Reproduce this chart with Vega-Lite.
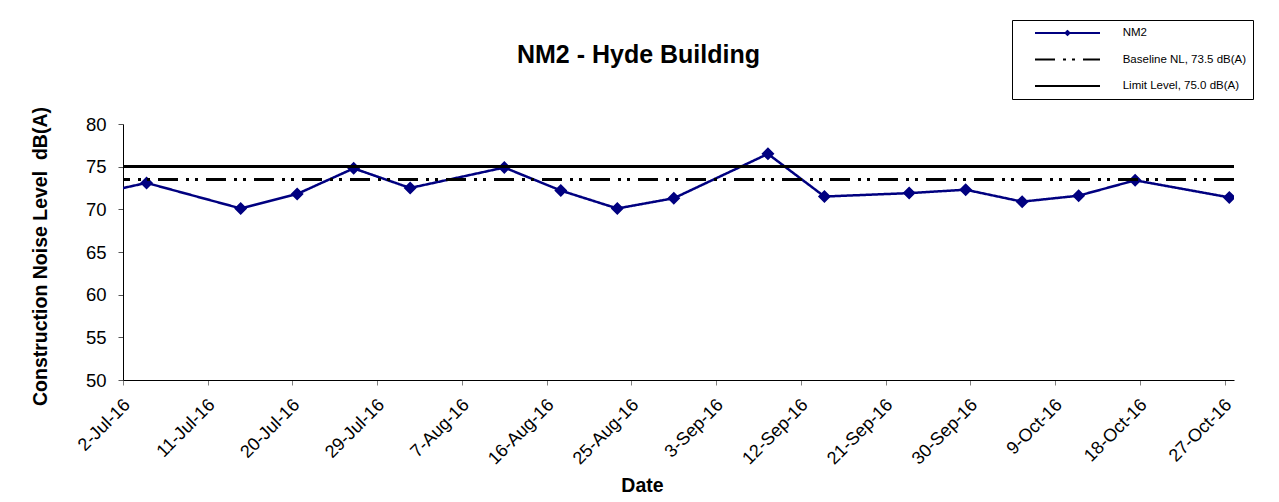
{
  "$schema": "https://vega.github.io/schema/vega-lite/v6.json",
  "width": 1111,
  "height": 256,
  "autosize": "none",
  "padding": {"left": 123, "top": 124, "right": 45, "bottom": 122},
  "background": "white",
  "title": {
    "text": "NM2 - Hyde Building",
    "fontSize": 25,
    "fontWeight": "bold",
    "font": "Liberation Sans",
    "color": "#000000",
    "anchor": "middle",
    "frame": "group",
    "baseline": "alphabetic",
    "offset": -68,
    "dx": -40
  },
  "data": {
    "values": [
      {"date": "2016/06/27", "level": 71.4},
      {"date": "2016/07/04", "level": 73.1},
      {"date": "2016/07/14", "level": 70.1},
      {"date": "2016/07/20", "level": 71.8},
      {"date": "2016/07/26", "level": 74.8},
      {"date": "2016/08/01", "level": 72.5},
      {"date": "2016/08/11", "level": 74.9},
      {"date": "2016/08/17", "level": 72.2},
      {"date": "2016/08/23", "level": 70.1},
      {"date": "2016/08/29", "level": 71.3},
      {"date": "2016/09/08", "level": 76.5},
      {"date": "2016/09/14", "level": 71.5},
      {"date": "2016/09/23", "level": 71.9},
      {"date": "2016/09/29", "level": 72.3},
      {"date": "2016/10/05", "level": 70.9},
      {"date": "2016/10/11", "level": 71.6},
      {"date": "2016/10/17", "level": 73.4},
      {"date": "2016/10/27", "level": 71.4}
    ]
  },
  "encoding": {
    "x": {
      "field": "date",
      "type": "temporal",
      "timeUnit": "yearmonthdate",
      "bandPosition": 0.5,
      "title": "Date",
      "scale": {
        "domain": [
          {"year": 2016, "month": 7, "date": 2},
          {"year": 2016, "month": 10, "date": 28}
        ]
      },
      "axis": {
        "values": [
          {"year": 2016, "month": 7, "date": 2},
          {"year": 2016, "month": 7, "date": 11},
          {"year": 2016, "month": 7, "date": 20},
          {"year": 2016, "month": 7, "date": 29},
          {"year": 2016, "month": 8, "date": 7},
          {"year": 2016, "month": 8, "date": 16},
          {"year": 2016, "month": 8, "date": 25},
          {"year": 2016, "month": 9, "date": 3},
          {"year": 2016, "month": 9, "date": 12},
          {"year": 2016, "month": 9, "date": 21},
          {"year": 2016, "month": 9, "date": 30},
          {"year": 2016, "month": 10, "date": 9},
          {"year": 2016, "month": 10, "date": 18},
          {"year": 2016, "month": 10, "date": 27}
        ],
        "format": "%-d-%b-%y",
        "formatType": "time",
        "labelAngle": -45,
        "labelAlign": "right",
        "labelBaseline": "middle",
        "labelFontSize": 18,
        "labelFont": "Liberation Sans",
        "labelColor": "#000000",
        "labelPadding": 17,
        "labelOffset": 4,
        "labelOverlap": false,
        "labelFlush": false,
        "grid": false,
        "domainColor": "#000000",
        "domainWidth": 1,
        "tickColor": "#808080",
        "tickSize": 5,
        "titleFont": "Liberation Sans",
        "titleFontSize": 19.5,
        "titleFontWeight": "bold",
        "titleColor": "#000000",
        "titleBaseline": "alphabetic",
        "titleAnchor": null,
        "titleX": 519,
        "titleY": 111
      }
    },
    "y": {
      "field": "level",
      "type": "quantitative",
      "title": "Construction Noise Level\u00a0 dB(A)",
      "scale": {"domain": [50, 80], "zero": false, "nice": false},
      "axis": {
        "values": [50, 55, 60, 65, 70, 75, 80],
        "labelFontSize": 18.5,
        "labelFont": "Liberation Sans",
        "labelColor": "#000000",
        "labelPadding": 12,
        "grid": false,
        "domainColor": "#000000",
        "domainWidth": 1,
        "tickColor": "#555555",
        "tickSize": 5,
        "titleFont": "Liberation Sans",
        "titleFontSize": 19.5,
        "titleFontWeight": "bold",
        "titleColor": "#000000",
        "titlePadding": 35,
        "titleY": 132
      }
    }
  },
  "layer": [
    {
      "mark": {"type": "line", "clip": true, "strokeWidth": 2.5},
      "encoding": {
        "color": {
          "datum": "NM2",
          "type": "nominal",
          "scale": {
            "domain": ["NM2", "Baseline NL, 73.5 dB(A)", "Limit Level, 75.0 dB(A)"],
            "range": ["#000080", "#000000", "#000000"]
          },
          "legend": {
            "title": null,
            "orient": "none",
            "legendX": 889,
            "legendY": -104,
            "padding": 6,
            "strokeColor": "#000000",
            "fillColor": "#ffffff",
            "symbolSize": 4225,
            "symbolStrokeWidth": 2,
            "symbolOffset": 16,
            "labelOffset": 21.7,
            "clipHeight": 14,
            "rowPadding": 12.5,
            "labelFontSize": 11.5,
            "labelFont": "Liberation Sans",
            "labelColor": "#000000",
            "labelLimit": 300,
            "encode": {
              "symbols": {"update": {"fill": {"value": "#000080"}}}
            }
          }
        },
        "strokeDash": {
          "datum": "NM2",
          "type": "nominal",
          "scale": {
            "domain": ["NM2", "Baseline NL, 73.5 dB(A)", "Limit Level, 75.0 dB(A)"],
            "range": [[1, 0], [20, 8, 3, 6, 3, 8], [1, 0]]
          }
        }
      }
    },
    {
      "mark": {"type": "point", "filled": true, "opacity": 1, "size": 46944, "clip": true},
      "encoding": {
        "color": {"datum": "NM2", "type": "nominal"},
        "shape": {
          "datum": "NM2",
          "type": "nominal",
          "scale": {
            "domain": ["NM2", "Baseline NL, 73.5 dB(A)", "Limit Level, 75.0 dB(A)"],
            "range": [
              "M-1,0L1,0M0,-0.06L0.06,0L0,0.06L-0.06,0Z",
              "M-1,0L1,0",
              "M-1,0L1,0"
            ]
          }
        }
      }
    },
    {
      "mark": {"type": "rule", "strokeWidth": 3},
      "encoding": {
        "x": null,
        "y": {"datum": 73.5},
        "color": {"datum": "Baseline NL, 73.5 dB(A)", "type": "nominal"},
        "strokeDash": {"datum": "Baseline NL, 73.5 dB(A)", "type": "nominal"}
      }
    },
    {
      "mark": {"type": "rule", "strokeWidth": 2.5},
      "encoding": {
        "x": null,
        "y": {"datum": 75},
        "color": {"datum": "Limit Level, 75.0 dB(A)", "type": "nominal"},
        "strokeDash": {"datum": "Limit Level, 75.0 dB(A)", "type": "nominal"}
      }
    }
  ],
  "config": {
    "view": {"stroke": null},
    "font": "Liberation Sans"
  }
}
